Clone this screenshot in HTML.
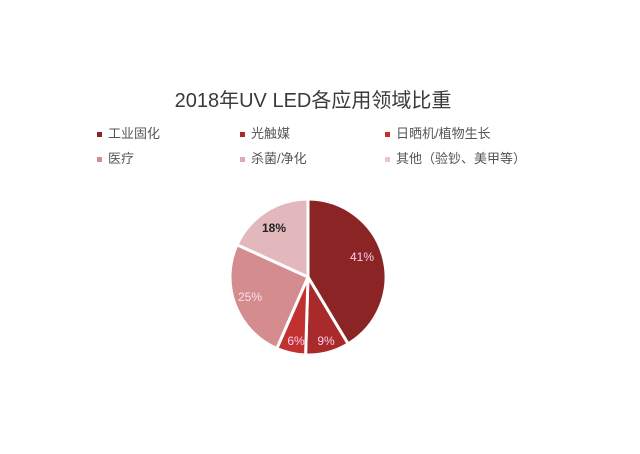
<!DOCTYPE html>
<html><head><meta charset="utf-8"><style>
body{margin:0;background:#fff;}
svg text{font-family:"Liberation Sans","Noto Sans CJK SC",sans-serif;}
</style></head><body>
<svg width="640" height="449" viewBox="0 0 640 449">
<rect width="640" height="449" fill="#fff"/>
<text x="313" y="107" text-anchor="middle" font-size="20" fill="#3a3a3a">2018年UV LED各应用领域比重</text>
<g font-size="13" fill="#555">
<rect x="97" y="132" width="5" height="5" fill="#8b2525"/><text x="108" y="138">工业固化</text>
<rect x="240" y="132" width="5" height="5" fill="#a82a2a"/><text x="251" y="138">光触媒</text>
<rect x="385" y="132" width="5" height="5" fill="#c0312f"/><text x="396" y="138">日晒机/植物生长</text>
<rect x="97" y="157" width="5" height="5" fill="#d48c8f"/><text x="108" y="163">医疗</text>
<rect x="240" y="157" width="5" height="5" fill="#e0a9ae"/><text x="251" y="163">杀菌/净化</text>
<rect x="385" y="157" width="5" height="5" fill="#e9c6ca"/><text x="396" y="163">其他（验钞、美甲等）</text>
</g>
<g stroke="#fff" stroke-width="3" stroke-linejoin="round">
<path d="M308,277 L308,199 A78,78 0 0 1 348.1,343.9 Z" fill="#8b2525"/>
<path d="M308,277 L348.1,343.9 A78,78 0 0 1 305.6,355 Z" fill="#a82a2a"/>
<path d="M308,277 L305.6,355 A78,78 0 0 1 276.8,348.5 Z" fill="#c0312f"/>
<path d="M308,277 L276.8,348.5 A78,78 0 0 1 237,244.7 Z" fill="#d48c8f"/>
<path d="M308,277 L237,244.7 A78,78 0 0 1 308,199 Z" fill="#e3b8bc"/>
</g>
<g font-size="12" text-anchor="middle">
<text x="362" y="261" fill="#fce">41%</text>
<text x="326" y="345" fill="#fce">9%</text>
<text x="296" y="345" fill="#fce">6%</text>
<text x="250" y="301" fill="#fde">25%</text>
<text x="274" y="232" fill="#222" font-weight="bold">18%</text>
</g>
</svg>
</body></html>
